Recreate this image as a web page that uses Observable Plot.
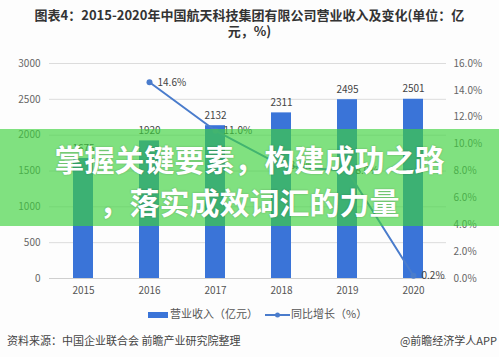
<!DOCTYPE html>
<html><head><meta charset="utf-8">
<script src="https://cdn.jsdelivr.net/npm/d3@7"></script>
<script src="https://cdn.jsdelivr.net/npm/@observablehq/plot@0.6"></script>
<style>
body{margin:0;background:#fff;font-family:"Noto Sans CJK SC","Noto Sans",sans-serif;}
#wrap{position:relative;width:499px;height:357px;overflow:hidden;background:#fdfdfd;}
#title{position:absolute;left:0;top:7px;width:499px;text-align:center;font-size:13px;font-weight:bold;color:#333;line-height:16px;}
#chart{position:absolute;left:0;top:40px;}
#banner{position:absolute;left:0;top:129px;width:499px;height:97px;background:rgba(61,211,61,0.65);color:#fff;font-weight:bold;font-size:30px;line-height:43px;text-align:center;padding-top:8px;box-sizing:border-box;text-shadow:0 0 2px rgba(0,0,0,0.25);}
.leg{position:absolute;top:305px;font-size:11px;color:#555;line-height:16px;}
.cap{position:absolute;top:332px;font-size:11px;color:#444;line-height:16px;}
</style>
</head><body>
<div id="wrap">
<div id="title">图表4：2015-2020年中国航天科技集团有限公司营业收入及变化(单位：亿<br>元，%)</div>
<div id="chart"></div>
<div id="banner">掌握关键要素，构建成功之路<br>，落实成效词汇的力量</div>
<div class="leg" style="left:148px;"><span style="display:inline-block;width:20px;height:6px;background:#3a74d8;vertical-align:middle;margin-right:2px;"></span>营业收入（亿元）</div>
<div class="leg" style="left:265px;"><svg width="25" height="8" style="vertical-align:middle;margin-right:1px;"><line x1="0" y1="4" x2="25" y2="4" stroke="#4a7ccc" stroke-width="2"/><circle cx="12.5" cy="4" r="2.5" fill="#4a7ccc"/></svg>同比增长（%）</div>
<div class="cap" style="left:7px;">资料来源：中国企业联合会 前瞻产业研究院整理</div>
<div class="cap" style="right:2px;">@前瞻经济学人APP</div>
</div>
<script>
const years = ["2015","2016","2017","2018","2019","2020"];
const revenue = [1675,1920,2132,2311,2495,2501];
const growthYears = ["2016","2017","2018","2019","2020"];
const growth = [14.6,11.0,8.4,8.0,0.2];
const leftTicks = [0,500,1000,1500,2000,2500,3000];
const rightTicks = [0,2,4,6,8,10,12,14,16];
const k = 3000/16;

const bars = years.map((y,i)=>({year:y, value:revenue[i]}));
const line = growthYears.map((y,i)=>({year:y, g:growth[i]}));

const chart = Plot.plot({
  width:499, height:260,
  marginTop:23, marginBottom:22, marginLeft:49, marginRight:53,
  x:{domain:years, paddingInner:0.7, paddingOuter:0.35, align:0.5},
  y:{domain:[0,3000]},
  style:{fontFamily:'"Noto Sans CJK SC","Noto Sans",sans-serif', fontSize:"10px", color:"#666", background:"transparent"},
  marks:[
    Plot.gridY(leftTicks, {stroke:"#dcdcdc", strokeOpacity:1}),
    Plot.ruleY([0], {stroke:"#cfcfcf"}),
    Plot.barY(bars, {x:"year", y:"value", fill:"#3a74d8"}),
    Plot.text(bars, {x:"year", y:"value", text:d=>String(d.value), dy:-10, fill:"#444", fontSize:10}),
    Plot.line(line, {x:"year", y:d=>d.g*k, stroke:"#4a7ccc", strokeWidth:2}),
    Plot.dot(line, {x:"year", y:d=>d.g*k, r:3, fill:"#4a7ccc"}),
    Plot.text(line, {x:"year", y:d=>d.g*k, text:d=>d.g.toFixed(1)+"%", textAnchor:"start", dx:8, fill:"#444", fontSize:10}),
    Plot.axisY({ticks:leftTicks, anchor:"left", tickSize:0, tickPadding:9, tickFormat:d=>String(d), label:null, fill:"#666"}),
    Plot.axisY({ticks:rightTicks.map(v=>v*k), anchor:"right", tickSize:0, tickPadding:7, tickFormat:d=>(d/k).toFixed(1)+"%", label:null, fill:"#666"}),
    Plot.axisX({tickSize:0, tickPadding:8, label:null, fill:"#555"})
  ]
});
document.getElementById("chart").appendChild(chart);
</script>
</body></html>
